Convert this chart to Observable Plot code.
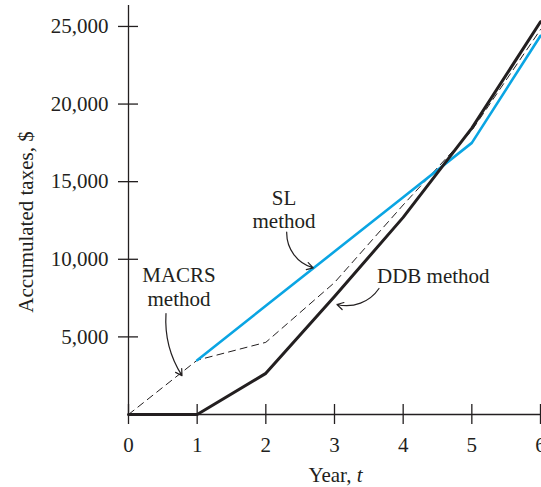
<!DOCTYPE html>
<html><head><meta charset="utf-8">
<script src="https://cdn.jsdelivr.net/npm/d3@7"></script>
<script src="https://cdn.jsdelivr.net/npm/@observablehq/plot@0.6"></script>
<style>body{margin:0;background:#fff}</style>
</head><body><div id="chart"></div>
<script>
const years = [0, 1, 2, 3, 4, 5, 6];
const slTaxes = [null, 3500, 7000, 10500, 14000, 17500, 24400];
const macrsTaxes = [0, 3500, 4650, 8500, 13500, 18300, 24800];
const ddbTaxes = [0, 0, 2650, 7600, 12700, 18450, 25300];
const xTicks = [0, 1, 2, 3, 4, 5, 6];
const yTicks = [5000, 10000, 15000, 20000, 25000];
const yMax = 26350;

const noteText = ["SL\nmethod", "MACRS\nmethod", "DDB method"];
const noteYear = [2.265, 0.735, 3.619];
const noteValue = [12000, 7020, 8440];
const noteAlign = ["middle", "middle", "start"];

const arrowYear1 = [2.304, 0.546, 3.648];
const arrowValue1 = [11746, 6508, 8119];
const arrowYear2 = [2.691, 0.779, 3.036];
const arrowValue2 = [9450, 2500, 7088];
const arrowBend = [-38, -18, 35];

const rows = (vals) => years.map((t, i) => ({t, v: vals[i]})).filter(d => d.v != null);
const notes = noteText.map((s, i) => ({s, x: noteYear[i], y: noteValue[i], a: noteAlign[i]}));
const arrows = arrowYear1.map((x1, i) => ({x1, y1: arrowValue1[i], x2: arrowYear2[i], y2: arrowValue2[i], b: arrowBend[i]}));

const ink = "#231f20";
const plot = Plot.plot({
  width: 541, height: 487,
  marginTop: 5, marginBottom: 73, marginLeft: 128, marginRight: 1,
  x: {domain: [0, 6]},
  y: {domain: [0, yMax]},
  style: {fontFamily: "'Liberation Serif', 'Times New Roman', serif", fontSize: "21px", color: ink, background: "#fff", overflow: "visible"},
  marks: [
    Plot.ruleY([0], {x1: 0, x2: 6, stroke: ink, strokeWidth: 1.3}),
    Plot.ruleX([0], {y1: 0, y2: yMax, stroke: ink, strokeWidth: 1.3}),
    Plot.ruleX(xTicks, {x: d => d, y1: 0, y2: 0, insetTop: -10, insetBottom: -10, stroke: ink, strokeWidth: 1.3}),
    Plot.ruleY(yTicks, {y: d => d, x1: 0, x2: 0, insetLeft: -10, insetRight: -10, stroke: ink, strokeWidth: 1.3}),
    Plot.axisX({ticks: xTicks, tickSize: 0, tickPadding: 23, label: null, fontSize: 21, tickFormat: d => String(d)}),
    Plot.axisY({ticks: yTicks, tickSize: 0, tickPadding: 20, label: null, fontSize: 21, tickFormat: d3.format(",")}),
    Plot.line(rows(macrsTaxes), {x: "t", y: "v", stroke: ink, strokeWidth: 1, strokeDasharray: "7,5"}),
    Plot.line(rows(slTaxes), {x: "t", y: "v", stroke: "#0aa5e3", strokeWidth: 2.6}),
    Plot.line(rows(ddbTaxes), {x: "t", y: "v", stroke: ink, strokeWidth: 3}),
    ...arrows.map(a => Plot.arrow([a], {x1: "x1", y1: "y1", x2: "x2", y2: "y2", bend: a.b, stroke: ink, strokeWidth: 1.2, headLength: 9})),
    ...notes.map(n => Plot.text([n], {x: "x", y: "y", text: "s", textAnchor: n.a, lineAnchor: "bottom", lineHeight: 1.1, fill: ink})),
    Plot.text(["Accumulated taxes, $"], {frameAnchor: "left", textAnchor: "middle", rotate: -90, dx: -96, dy: 12, lineAnchor: "bottom", fill: ink}),
    Plot.text(["Year, t"], {frameAnchor: "bottom", textAnchor: "middle", dx: 1, dy: 67, lineAnchor: "bottom", fill: ink})
  ]
});
document.getElementById("chart").appendChild(plot);
d3.select(plot).selectAll("text").each(function() {
  if (this.textContent === "Year, t") {
    const el = d3.select(this);
    el.text("Year, ");
    el.append("tspan").attr("font-style", "italic").text("t");
  }
});
</script>
</body></html>
